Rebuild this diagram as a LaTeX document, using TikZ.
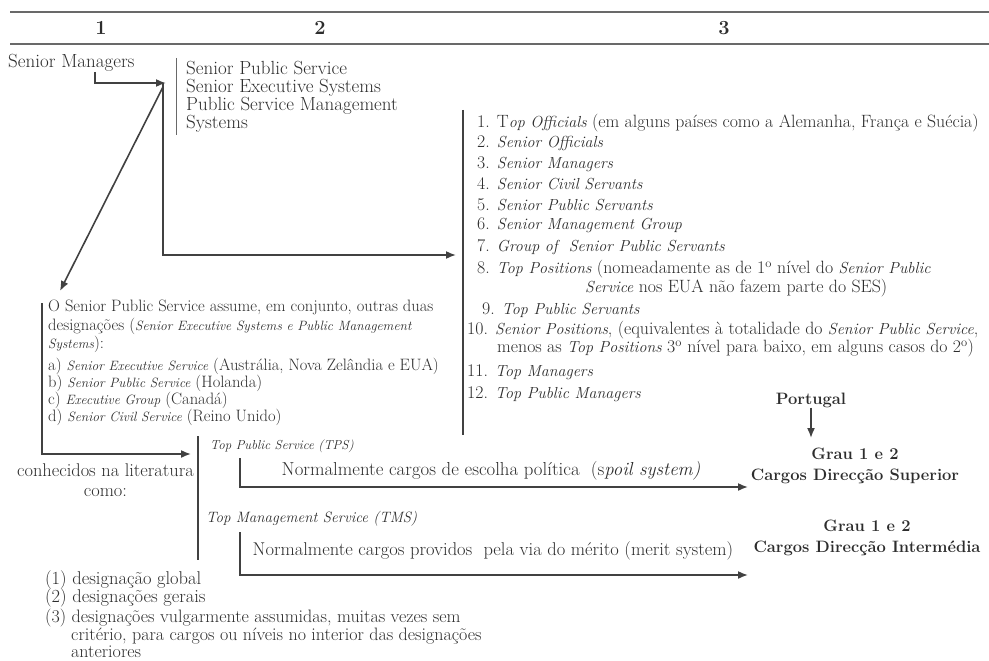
\documentclass[tikz,border=0pt]{standalone}
\usetikzlibrary{arrows.meta}
\definecolor{ink}{RGB}{45,45,45}
\definecolor{lnc}{RGB}{65,65,65}
\definecolor{rulec}{RGB}{105,105,105}
\newcommand{\mysz}[2]{\fontsize{#1}{#2}\selectfont}
\newcommand{\smit}[1]{{\fontsize{13.5}{16}\selectfont\itshape #1}}
\newcommand{\lit}[1]{{\fontsize{16}{18}\selectfont\itshape #1}}
\begin{document}
\begin{tikzpicture}[x=1pt,y=-1pt,
  txt/.style={inner sep=0pt, text=ink, font=\mysz{19}{18}},
  lst/.style={inner sep=0pt, text=ink, font=\mysz{17.8}{19}, anchor=west},
  sml/.style={inner sep=0pt, text=ink, font=\mysz{16.5}{18.5}},
  bld/.style={inner sep=0pt, text=ink, font=\mysz{16.5}{21.5}\bfseries, align=center},
  ln/.style={draw=lnc, line width=1.6pt},
  arr/.style={ln, -{Latex[length=10pt,width=8pt]}}]
\useasboundingbox (0,0) rectangle (989,661);
% header
\draw[rulec, line width=1.2pt] (10,12) -- (989,12);
\draw[rulec, line width=1.2pt] (10,44) -- (989,44);
\node[bld, font=\mysz{20}{22}\bfseries] (h1) at (101,28) {1};
\node[bld, font=\mysz{20}{22}\bfseries] (h2) at (320,28) {2};
\node[bld, font=\mysz{20}{22}\bfseries] (h3) at (724,28) {3};
% column 1 / 2 top
\node[txt, anchor=west] (sm) at (8,63) {Senior Managers};
\node[txt, anchor=west, align=left, font=\mysz{19}{18}] (sps) at (186,97) {Senior Public Service\\Senior Executive Systems\\Public Service Management\\Systems};
\draw[rulec, line width=0.8pt] (176,58) -- (176,135);
\coordinate (smo) at (95,72);
\coordinate (j) at (166,83);
\coordinate (jd) at (163,87);
\coordinate (jv) at (163,83);
\coordinate (dtip) at (60,291);
\coordinate (l3in) at (456,255);
\draw[arr] (smo) |- (j);
\draw[arr] (jd) -- (dtip);
\draw[arr] (jv) |- (l3in);
% column 3 list
\draw[lnc, line width=1.6pt] (463,110) -- (463,435);
\node[lst] (i1) at (477,123) {1. T\lit{op Officials} (em alguns países como a Alemanha, França e Suécia)};
\node[lst] (i2) at (477,143) {2. \lit{Senior Officials}};
\node[lst] (i3) at (477,164) {3. \lit{Senior Managers}};
\node[lst] (i4) at (477,184) {4. \lit{Senior Civil Servants}};
\node[lst] (i5) at (477,205) {5. \lit{Senior Public Servants}};
\node[lst] (i6) at (477,225) {6. \lit{Senior Management Group}};
\node[lst] (i7) at (477,247) {7. \lit{Group of \ Senior Public Servants}};
\node[lst, align=left] (i8) at (477,278.5) {8. \lit{Top Positions} (nomeadamente as de 1\textsuperscript{o} nível do \lit{Senior Public}\\\hspace*{108pt}\lit{Service} nos EUA não fazem parte do SES)};
\node[lst] (i9) at (482,310) {9. \lit{Top Public Servants}};
\node[lst, align=left, font=\mysz{17.8}{18}] (i10) at (467,339) {10. \lit{Senior Positions}, (equivalentes à totalidade do \lit{Senior Public Service},\\\hspace*{30pt}menos as \lit{Top Positions} 3\textsuperscript{o} nível para baixo, em alguns casos do 2\textsuperscript{o})};
\node[lst] (i11) at (467,372) {11. \lit{Top Managers}};
\node[lst] (i12) at (467,394) {12. \lit{Top Public Managers}};
% left block
\node[sml, anchor=west, align=left] (lp) at (48,326.5) {O Senior Public Service assume, em conjunto, outras duas\\designações (\smit{Senior Executive Systems e Public Management}\\\smit{Systems}):};
\node[sml, anchor=west, align=left, font=\mysz{16.5}{17}] (la) at (48,392) {a) \smit{Senior Executive Service} (Austrália, Nova Zelândia e EUA)\\b) \smit{Senior Public Service} (Holanda)\\c) \smit{Executive Group} (Canadá)\\d) \smit{Senior Civil Service} (Reino Unido)};
\coordinate (lbt) at (42,303);
\coordinate (lbe) at (191,454);
\draw[arr] (lbt) |- (lbe);
\draw[lnc, line width=1.6pt] (198,436) -- (198,560);
\node[txt, anchor=east, align=center, font=\mysz{18.4}{20}] (con) at (194,480) {conhecidos na literatura\\como:};
\node[sml, anchor=west, font=\mysz{13}{16}\itshape] (tps) at (210,446) {Top Public Service (TPS)};
\node[txt, anchor=west, font=\mysz{15}{18}\itshape] (tms) at (206,519) {Top Management Service (TMS)};
\coordinate (tpa) at (240,458);
\coordinate (tpb) at (748,487);
\coordinate (tma) at (240,532);
\coordinate (tmb) at (748,575);
\draw[arr] (tpa) |- (tpb);
\draw[arr] (tma) |- (tmb);
\node[txt, font=\mysz{18.8}{20}] (lab1) at (491,471) {Normalmente cargos de escolha política \ (s\textit{poil system)}};
\node[txt, font=\mysz{18.5}{20}] (lab2) at (493,551) {Normalmente cargos providos \ pela via do mérito (merit system)};
% right
\node[bld] (pt) at (811,400) {Portugal};
\coordinate (ptb) at (811,438);
\draw[arr] (pt.south) -- (ptb);
\node[bld] (sup) at (855,466) {Grau 1 e 2\\Cargos Direcção Superior};
\node[bld] (int) at (867,538) {Grau 1 e 2\\Cargos Direcção Intermédia};
% bottom list
\node[txt, anchor=west, font=\mysz{18.5}{18}] (b1) at (45,580) {(1) designação global};
\node[txt, anchor=west, font=\mysz{18.5}{18}] (b2) at (45,598) {(2) designações gerais};
\node[txt, anchor=west, align=left, font=\mysz{18}{17}] (b3) at (45,633.5) {(3) designações vulgarmente assumidas, muitas vezes sem\\\hspace*{26pt}critério, para cargos ou níveis no interior das designações\\\hspace*{26pt}anteriores};
\end{tikzpicture}
\end{document}
